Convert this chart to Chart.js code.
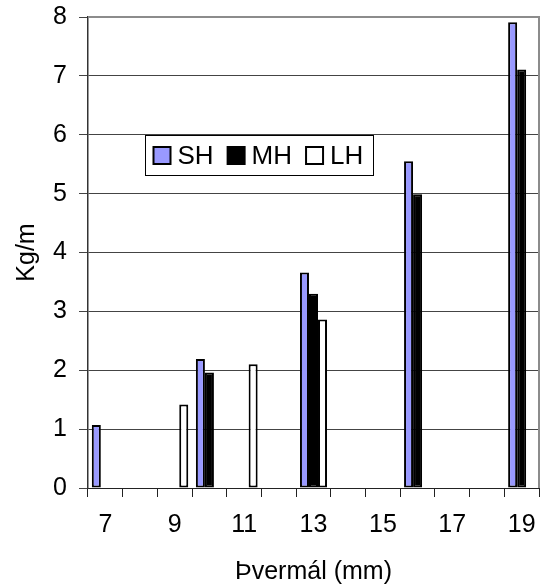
<!DOCTYPE html>
<html>
<head>
<meta charset="utf-8">
<script src="https://cdn.jsdelivr.net/npm/chart.js@4/dist/chart.umd.min.js"></script>
<style>
  html, body { margin: 0; padding: 0; background: #fff; }
  #wrap { width: 545px; height: 587px; }
</style>
</head>
<body>
<div id="wrap"><canvas id="c" width="545" height="587"></canvas></div>
<script>
// Data
const categories = ['7','8','9','10','11','12','13','14','15','16','17','18','19'];
const seriesNames = ['SH', 'MH', 'LH'];
const shValues = [1.07, null, null, 2.19, null, null, 3.66, null, null, 5.55, null, null, 7.91];
const mhValues = [null, null, null, 1.96, null, null, 3.30, null, null, 4.99, null, null, 7.11];
const lhValues = [null, null, 1.42, null, 2.10, null, 2.86, null, null, null, null, null, null];
const yTicks = [0, 1, 2, 3, 4, 5, 6, 7, 8];
const xTitle = 'Þvermál (mm)';
const yTitle = 'Kg/m';

const FONT = "'Liberation Sans', Arial, sans-serif";

const frameAndLegend = {
  id: 'frameAndLegend',
  afterDraw(chart) {
    const ctx = chart.ctx;
    const a = chart.chartArea;
    ctx.save();
    // plot area top/right border (gray)
    ctx.strokeStyle = '#8c8c8c';
    ctx.lineWidth = 2;
    ctx.beginPath();
    ctx.moveTo(a.left, a.top);
    ctx.lineTo(a.right, a.top);
    ctx.lineTo(a.right, a.bottom);
    ctx.stroke();

    // legend box inside plot area
    const bx = a.left + 57.5, by = a.top + 118.5, bw = 228, bh = 40;
    ctx.fillStyle = '#ffffff';
    ctx.fillRect(bx, by, bw, bh);
    ctx.strokeStyle = '#000';
    ctx.lineWidth = 1;
    ctx.strokeRect(bx, by, bw, bh);
    ctx.font = '26px ' + FONT;
    ctx.textBaseline = 'middle';
    ctx.textAlign = 'left';
    let x = bx + 8;
    const cy = by + bh / 2;
    chart.data.datasets.forEach((ds) => {
      ctx.fillStyle = ds.backgroundColor;
      ctx.fillRect(x, cy - 8.5, 17, 17);
      ctx.strokeStyle = '#000';
      ctx.lineWidth = 2;
      ctx.strokeRect(x, cy - 8.5, 17, 17);
      x += 17 + 7;
      ctx.fillStyle = '#000';
      ctx.fillText(ds.label, x, cy + 1);
      x += ctx.measureText(ds.label).width + 14;
    });
    ctx.restore();
  }
};

new Chart(document.getElementById('c'), {
  type: 'bar',
  data: {
    labels: categories,
    datasets: [
      { label: seriesNames[0], data: shValues, backgroundColor: '#9999ff', borderColor: '#000', borderWidth: 2, borderSkipped: false },
      { label: seriesNames[1], data: mhValues, backgroundColor: '#000000', borderColor: '#000', borderWidth: 2, borderSkipped: false },
      { label: seriesNames[2], data: lhValues, backgroundColor: '#ffffff', borderColor: '#000', borderWidth: 2, borderSkipped: false }
    ]
  },
  options: {
    responsive: false,
    animation: false,
    devicePixelRatio: 1,
    categoryPercentage: 0.78,
    barPercentage: 1.0,
    layout: { padding: { left: 0, right: 6, top: 17, bottom: 0 } },
    plugins: {
      legend: { display: false },
      tooltip: { enabled: false }
    },
    scales: {
      x: {
        offset: true,
        grid: { offset: true, drawOnChartArea: false, drawTicks: true, tickLength: 9, color: '#222', lineWidth: 1 },
        border: { display: true, color: '#222', width: 1 },
        ticks: {
          autoSkip: false,
          maxRotation: 0,
          padding: 13,
          color: '#000',
          font: { family: FONT, size: 25 },
          callback: function(value, index) { return index % 2 === 0 ? categories[index] : ''; }
        },
        title: { display: true, text: xTitle, color: '#000', font: { family: FONT, size: 25 }, padding: { top: 0, bottom: 0 } },
        afterFit: function(scale) { scale.height = 99; scale.paddingLeft = 0; scale.paddingRight = 0; }
      },
      y: {
        min: yTicks[0],
        max: yTicks[yTicks.length - 1],
        afterBuildTicks: function(scale) { scale.ticks = yTicks.map(v => ({ value: v })); },
        grid: { color: '#444', lineWidth: 1, tickLength: 9, drawTicks: true },
        border: { display: true, color: '#333', width: 1.5 },
        ticks: { padding: 12, color: '#000', font: { family: FONT, size: 25 } },
        title: { display: true, text: yTitle, color: '#000', font: { family: FONT, size: 25 }, padding: { top: 12, bottom: 0 } },
        afterFit: function(scale) { scale.width = 88; scale.paddingTop = 0; scale.paddingBottom = 0; }
      }
    }
  },
  plugins: [frameAndLegend]
});
</script>
</body>
</html>
